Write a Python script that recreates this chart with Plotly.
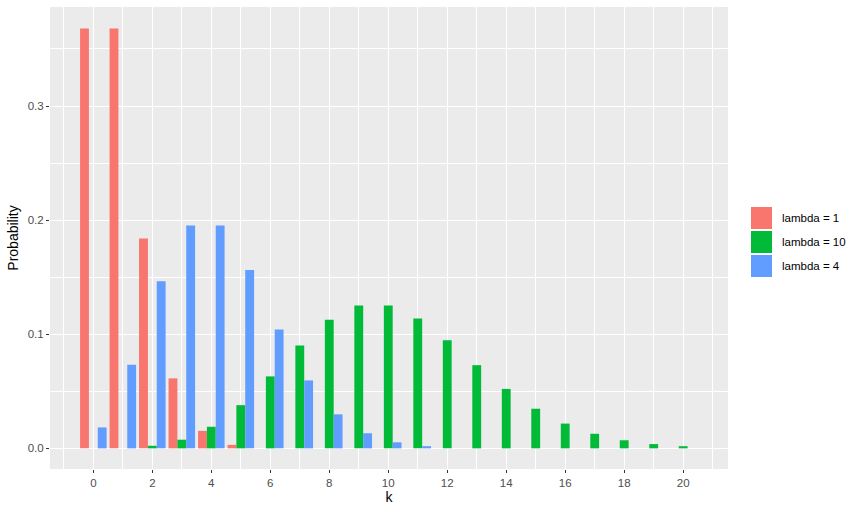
import plotly.graph_objects as go

k = list(range(21))
lam1 = [0.36788, 0.36788, 0.18394, 0.06131, 0.01533, 0.00307, 0.0, 0.0, 0.0, 0.0, 0.0,
        0.0, 0.0, 0.0, 0.0, 0.0, 0.0, 0.0, 0.0, 0.0, 0.0]
lam10 = [0.0, 0.0, 0.00227, 0.00757, 0.01892, 0.03783, 0.06306, 0.09008, 0.11260, 0.12511, 0.12511,
         0.11374, 0.09478, 0.07291, 0.05208, 0.03472, 0.02170, 0.01276, 0.00709, 0.00373, 0.00187]
lam4 = [0.01832, 0.07326, 0.14653, 0.19537, 0.19537, 0.15629, 0.10420, 0.05954, 0.02977, 0.01323, 0.00529,
        0.00192, 0.0, 0.0, 0.0, 0.0, 0.0, 0.0, 0.0, 0.0, 0.0]
series_names = ["lambda = 1", "lambda = 10", "lambda = 4"]
series_vals = [lam1, lam10, lam4]
colors = ["#F8766D", "#00BA38", "#619CFF"]
x_ticks = [0, 2, 4, 6, 8, 10, 12, 14, 16, 18, 20]
y_ticks = [0.0, 0.1, 0.2, 0.3]

fig = go.Figure()
for name, vals, c in zip(series_names, series_vals, colors):
    fig.add_trace(go.Bar(x=k, y=vals, name=name, marker=dict(color=c, line=dict(width=0)),
                         showlegend=False))

W, H = 862, 514
ML, MR, MT, MB = 50, 134, 7, 45
PW, PH = W - ML - MR, H - MT - MB

font = "Liberation Sans, Arial, sans-serif"
fig.update_layout(
    width=W, height=H,
    margin=dict(l=ML, r=MR, t=MT, b=MB),
    paper_bgcolor="white", plot_bgcolor="#EBEBEB",
    barmode="group", bargap=0.1, bargroupgap=0,
    font=dict(family=font, color="#4D4D4D", size=11),
    xaxis=dict(range=[-1.47, 21.52], tickvals=x_ticks, ticktext=[str(v) for v in x_ticks],
               showgrid=True, gridcolor="white", gridwidth=1.1,
               minor=dict(tickvals=[v for v in range(-1, 22, 2)], showgrid=True,
                          gridcolor="white", gridwidth=0.5, ticks=""),
               ticks="outside", ticklen=3, tickcolor="#333333", tickwidth=1,
               zeroline=False, showline=False,
               title=dict(text="k", font=dict(size=14, color="black"), standoff=3),
               tickfont=dict(size=11.5, color="#4D4D4D")),
    yaxis=dict(range=[-0.0181, 0.3868], tickvals=y_ticks, ticktext=["0.0", "0.1", "0.2", "0.3"],
               showgrid=True, gridcolor="white", gridwidth=1.1,
               minor=dict(tickvals=[0.05, 0.15, 0.25, 0.35], showgrid=True,
                          gridcolor="white", gridwidth=0.5, ticks=""),
               ticks="outside", ticklen=3, tickcolor="#333333", tickwidth=1,
               zeroline=False, showline=False,
               title=dict(text="Probability", font=dict(size=14, color="black"), standoff=5),
               tickfont=dict(size=11.5, color="#4D4D4D")),
)

# legend drawn as keys + labels (ggplot style, no title)
key_tops = [207, 231, 255]
for name, c, top in zip(series_names, colors, key_tops):
    fig.add_shape(type="rect", xref="paper", yref="paper",
                  x0=(751 - ML) / PW, x1=(772 - ML) / PW,
                  y0=1 - (top + 22 - MT) / PH, y1=1 - (top - MT) / PH,
                  fillcolor=c, line=dict(width=0))
    fig.add_annotation(xref="paper", yref="paper",
                       x=(780 - ML) / PW, y=1 - (top + 11 - MT) / PH,
                       text=name, showarrow=False, xanchor="left", yanchor="middle",
                       font=dict(size=11.5, color="black", family=font))

fig.write_html("out.html", config={"displayModeBar": False},
               post_script="document.body.style.margin='0';")
